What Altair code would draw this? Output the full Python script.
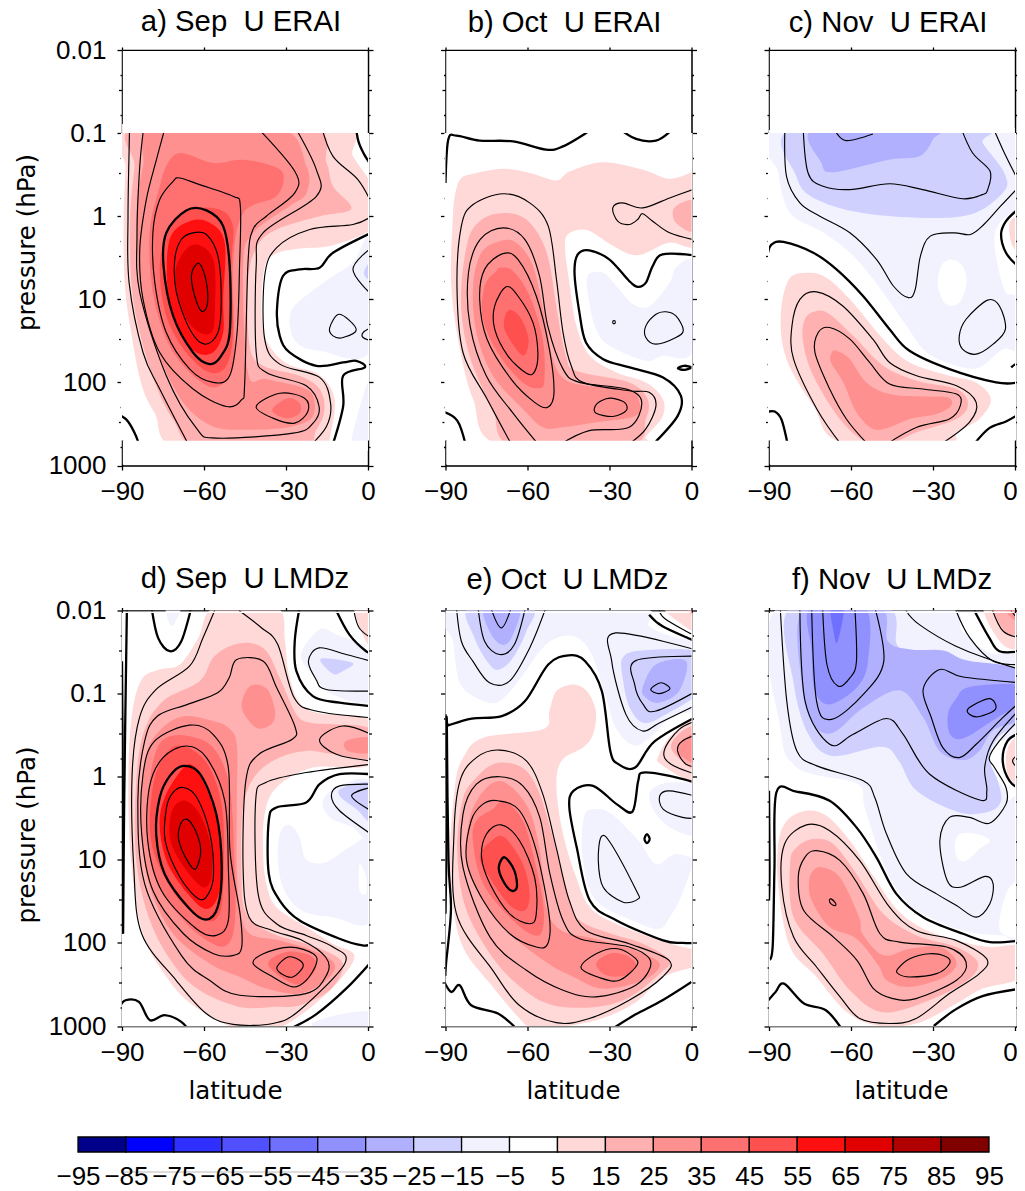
import altair as alt
import pandas as pd

# Colour levels of the shared colour bar
EDGES = [-95,-85,-75,-65,-55,-45,-35,-25,-15,-5,5,15,25,35,45,55,65,75,85,95]
COLORS = ["#00008b","#0000ff","#2f2fff","#5050ff","#7070ff","#9090ff","#b0b0ff","#d0d0ff","#f2f2ff","#ffffff",
          "#ffd8d8","#ffb0b0","#ff9090","#ff7070","#ff5050","#ff1010","#e00000","#b00000","#800000"]
Y_TICKS = [0.01,0.02,0.03,0.06,0.1,0.2,0.3,0.6,1,2,3,6,10,20,30,60,100,200,300,600,1000]
X_TICKS = [-90,-60,-30,0]

# Every contour below is a flat list: latitude, log10(pressure in hPa), latitude, ...
# a) Sep U ERAI
A_F10 = [-88.7,-1.12,-11.6,-1.12,-5.5,-.72,.6,-.42,1.8,-.2,1.8,.14,-12.8,.35,-25,.39,-33.5,.45,-37.8,.61,-39,1.13,-37.2,1.49,-29.9,1.77,-17.7,1.91,-12.2,2.21,-14,2.69,-14.6,2.81,-68.3,2.81,-78,2.37,-83,2.01,-86.6,1.41,-89,.81,-89.4,0,-88.7,-.6]
A_F20 = [-84.1,-1.08,-22,-1.08,-15.2,-.64,-12.8,-.36,-6.1,-.09,-17.7,0,-33.5,.16,-40.9,.38,-43.9,.8,-43.3,1.56,-38.4,1.8,-25,1.92,-17.7,2.08,-15.9,2.33,-18.9,2.57,-25,2.79,-61.6,2.79,-71.3,2.45,-78,2,-83.5,1.4,-86.6,.8,-87,0,-85.4,-.6]
A_F30 = [-78,-1.08,-33,-1.08,-22.5,-.6,-22.5,-.28,-28.7,-.12,-42,.2,-45.7,.6,-43.9,1.88,-37.2,1.96,-22.6,2.08,-19.5,2.25,-21.3,2.45,-31.1,2.55,-45.7,2.57,-56.7,2.53,-66.5,2.29,-73.8,1.88,-79.9,1.4,-83.5,.8,-84.8,0,-82.3,-.6]
A_F40 = [-68.3,-.76,-56.7,-.64,-47,-.68,-38.4,-.64,-31.1,-.52,-33.5,-.24,-45.7,-.04,-49.4,.6,-48.8,1.6,-50.6,1.92,-56.7,2.06,-65.2,1.88,-73.2,1.52,-78.7,.92,-79.9,.2,-76.2,-.36,-73.2,-.64]
A_F40B = [-34.8,2.31,-29.3,2.19,-25,2.25,-25,2.37,-29.3,2.43,-33.5,2.39]
A_F50 = [-72.6,.12,-65.2,-.08,-54.3,-.08,-49.4,.12,-50,.6,-49.4,1.4,-51.8,1.8,-57.9,1.88,-66.5,1.64,-73.8,1.2,-76.2,.6]
A_F60 = [-72.6,.28,-65.2,.06,-57.9,.08,-52.4,.32,-53,1,-53,1.4,-56.7,1.64,-62.8,1.64,-68.9,1.4,-73.2,.92]
A_F70 = [-65.2,.36,-59.8,.38,-56.1,.6,-56.1,1.2,-57.3,1.4,-61.6,1.4,-66.5,1.24,-70.1,.92,-70.1,.6]
A_N10 = [.6,.3,-5.5,.56,-12.8,.72,-21.3,.92,-27.4,1.1,-28.7,1.28,-26.2,1.52,-17.7,1.62,.6,1.62]
A_N20 = [1,.56,-1.2,.64,-1.2,.72,1,.76]
A_N10B = [-.6,2.04,-5.5,2.61,-5.5,2.77,1.2,2.77,1.2,2.04]
A_L0A = [-4.5,-1.1,-3.5,-.9,-1.5,-.75,1,-.62]
A_L0B = [-13.4,2.8,-9.1,2.29,-9.1,1.92,-1.2,1.82,-4.3,1.74,-9.1,1.76,-18.9,1.8,-28.7,1.64,-32.3,1.44,-33.3,1.12,-31.1,.72,-25,.64,-17.7,.62,-12.8,.44,1.2,.2]
A_L0C = [-90.5,2.4,-87.8,2.47,-84.8,2.65,-83.5,2.79]
A_L10A = [-87.2,-1.08,-87.4,-.8,-87.8,0,-87.4,.8,-82.3,1.64,-76.2,2.08,-65,2.79]
A_L10B = [-17,-1.08,-12.8,-.72,-3.7,-.44,1.2,-.16]
A_L10C = [1.2,0,-5.5,.1,-21.3,.16,-33.5,.38,-37.8,.72,-37.8,1.48,-32.3,1.78,-17.7,1.94,-13.7,2.25,-15.2,2.53,-22,2.79]
A_L20 = [-26.8,-1.08,-18.9,-.56,-18.9,-.24,-38.4,.2,-40.9,.6,-40.9,1.64,-37.2,1.88,-22.6,2.04,-17.9,2.29,-20.1,2.49,-27.4,2.61,-55.5,2.67,-62.8,2.55,-73.8,1.92,-83.5,.92,-84.5,.2,-83.5,-.6,-82,-1.08]
A_L30 = [-40.9,-1.08,-26.8,-.54,-26.8,-.28,-37.2,0,-42.1,.16,-43.9,.56,-45.1,2,-46.3,2.21,-51.8,2.29,-64,2.08,-76.2,1.64,-82.3,1,-83.5,.4,-81.1,-.2,-77.4,-.68,-74.1,-1.08]
A_L30B = [-40.9,2.29,-32.3,2.13,-23.2,2.19,-22,2.35,-26.8,2.49,-34.8,2.43]
A_L40 = [-68.9,-.46,-61.6,-.38,-49.4,-.24,-46.7,-.12,-47,.6,-47.9,1.4,-50.6,1.92,-56.7,2,-65.2,1.84,-73.8,1.4,-78,.8,-78.7,.2,-76.2,-.2,-71.3,-.42]
A_L50 = [-66.5,-.07,-59.1,-.07,-53,.12,-50.6,.6,-50.6,1.4,-53.7,1.68,-57.9,1.78,-64,1.64,-71.3,1.2,-74.8,.6,-73.8,.2]
A_L60 = [-64,.2,-59.1,.22,-54.9,.48,-53.7,1,-54.9,1.4,-59.8,1.54,-65.2,1.36,-70.1,.92,-70.7,.52,-68.3,.28]
A_L70 = [-62.8,.58,-61,.6,-58.9,.84,-58.9,1.08,-61,1.14,-63.4,.96,-64.6,.72]
A_M10A = [1.2,.38,-5.5,.64,1.2,.94]
A_M10B = [-14,1.34,-10.4,1.18,-4.3,1.36,-9.1,1.46,-12.8,1.44]
A_M10C = [1.2,1.34,-1.8,1.4,-1.8,1.46,1.2,1.5]
PANEL_A = [("F",10,A_F10),("F",20,A_F20),("F",30,A_F30),("F",40,A_F40),("F",40,A_F40B),("F",50,A_F50),("F",60,A_F60),("F",70,A_F70),
           ("F",-10,A_N10),("F",-20,A_N20),("F",-10,A_N10B),
           ("O",0,A_L0A),("O",0,A_L0B),("O",0,A_L0C),("O",10,A_L10A),("O",10,A_L10B),("O",10,A_L10C),("O",20,A_L20),("O",30,A_L30),
           ("C",30,A_L30B),("C",40,A_L40),("C",50,A_L50),("C",60,A_L60),("C",70,A_L70),("O",-10,A_M10A),("C",-10,A_M10B),("O",-10,A_M10C)]

# b) Oct U ERAI
B_F10 = [-84.1,-.46,-79.8,-.51,-68.9,-.57,-59.1,-.52,-49.4,-.43,-44.5,-.54,-32.3,-.65,-17.7,-.56,-8,-.45,1,-.54,2,-.54,2,.32,-8.4,.32,-19.9,.47,-29.5,.34,-38,.17,-44.5,.2,-46.3,.36,-44.5,.84,-42.1,1.32,-37.2,1.68,-27.5,1.88,-16.7,2,-10.6,2.19,-10.6,2.41,-16.7,2.65,-19,2.75,-70.2,2.75,-79.9,2.2,-84.7,1.6,-87.9,.84,-87.3,0,-86.1,-.32]
B_F20 = [-71.4,-.03,-64.1,-.02,-58,.12,-52.6,.48,-48.9,1.2,-45.9,1.68,-42.2,1.86,-22.8,2,-16.1,2.2,-16.7,2.44,-22.8,2.76,-65.3,2.76,-72.6,2.33,-80,1.8,-83.6,1.32,-84.2,.84,-81.7,.28,-77.5,.06]
B_F20B = [-6.3,-.1,1,-.18,1,.18,-5.7,.08]
B_F30 = [-70.2,.3,-64.1,.32,-58,.6,-53.8,1.2,-50.7,1.72,-46.5,1.96,-38.6,2.04,-22.8,2.08,-19.2,2.22,-20.4,2.4,-35,2.48,-47.2,2.54,-54.4,2.54,-61.7,2.32,-72.6,1.92,-78.7,1.4,-79.9,.84,-76.9,.44]
B_F40 = [-70.2,.62,-65.3,.66,-59.2,.96,-54.4,1.48,-53.8,1.96,-55.6,2.07,-61.7,2,-70.2,1.68,-76.3,1.24,-75.7,.84,-71.4,.66]
B_F50 = [-65.9,1.13,-62.2,1.24,-59.6,1.48,-61,1.67,-64.1,1.6,-68.4,1.36,-68,1.18]
B_N10 = [-38,.72,-32.3,.68,-27.5,.84,-21.4,1.06,-15.3,1.08,-8,.8,-5.7,.62,.4,.59,.4,1.62,-10.6,1.68,-16.7,1.74,-30.1,1.56,-34.9,1.36,-37.4,1.04]
B_L0A = [-90,-.4,-89,-.92,-86,-.97,-77.5,-.91,-65.3,-.9,-53.2,-.8,-47,-.84,-38.6,-1,-36,-1.07]
B_L0B = [-27,-1.07,-20.3,-.93,-13,-.91,-7.8,-1.02,-6,-1.1]
B_L0C = [-91,2.35,-85.7,2.46,-82.7,2.74]
B_L0D = [.4,.47,-10.6,.46,-14.2,.6,-16.7,.8,-19.7,.85,-22.8,.78,-30.1,.52,-37.4,.41,-41.6,.46,-42.8,.68,-41,1.16,-38.6,1.52,-32.3,1.72,-22.6,1.82,-10.4,1.94,-3.9,2.16,-5,2.4,-13,2.71]
B_L0E = [-5,1.83,-2.7,1.8,0,1.82,-2.7,1.85]
B_L10A = [-66,2.74,-74.8,2.2,-83.6,1.64,-85.8,.84,-84.2,.12,-79.9,-.14,-68.9,-.27,-59.2,-.16,-52.4,.12,-49.4,.76,-47,1.4,-44,1.8,-39.7,2,-22.8,2.1,-15.5,2.12,-13,2.28,-16.7,2.56,-22.8,2.74]
B_L10B = [.4,-.32,-8,-.22,-17.9,-.1,-25.2,-.16,-28.8,-.1,-27,.06,-22.8,.1,-19.7,.04,-17.9,-.03,-14.2,.06,-8,.2,.4,.28]
B_L20 = [-56.2,2.74,-65.3,2.37,-75.1,1.92,-81,1.32,-81.6,.68,-77.3,.28,-68.9,.14,-61,.28,-55.6,.72,-52.6,1.32,-47,1.84,-41,2,-23.9,2.08,-18.2,2.24,-22.8,2.54,-37.4,2.58,-47.7,2.74]
B_L30 = [-69,.45,-63.5,.52,-56.8,.96,-52,1.6,-50.3,2.12,-52.6,2.3,-57.4,2.24,-66,1.96,-74.8,1.48,-77.5,1,-75.7,.64]
B_L30B = [-29.4,2.19,-24.5,2.24,-23.9,2.34,-28.8,2.41,-34.9,2.37,-35.3,2.29,-33,2.22]
B_L40 = [-67.8,.85,-63.5,.96,-58,1.28,-56.2,1.64,-57.4,1.87,-60.4,1.89,-67.2,1.68,-72,1.36,-72,1.08]
B_M10A = [-28.7,1.26,-28,1.26,-28,1.29,-28.7,1.29]
B_M10B = [-9.4,1.15,-5.7,1.2,-3,1.37,-5.7,1.46,-13,1.54,-16.7,1.46,-16.7,1.32,-13,1.18]
PANEL_B = [("F",10,B_F10),("F",20,B_F20),("F",20,B_F20B),("F",30,B_F30),("F",40,B_F40),("F",50,B_F50),("F",-10,B_N10),
           ("O",0,B_L0A),("O",0,B_L0B),("O",0,B_L0C),("O",0,B_L0D),("C",0,B_L0E),("O",10,B_L10A),("O",10,B_L10B),("O",20,B_L20),
           ("C",30,B_L30),("C",30,B_L30B),("C",40,B_L40),("C",-10,B_M10A),("C",-10,B_M10B)]

# c) Nov U ERAI
C_N10 = [-87,-1.06,-.2,-1.06,.4,-.68,1,-.12,-4.5,.04,-7.5,.24,-6.3,.6,-3.3,.92,1,1,1,1.58,-4.5,1.6,-13,1.82,-21.4,1.8,-32.3,1.64,-39.7,1.32,-48.2,.92,-59.1,.48,-70,.2,-82.3,-.04,-86.6,-.52]
C_F0A = [-23.4,.52,-19.2,.6,-17.7,.8,-20.4,1.04,-25.2,1.06,-28.2,.84,-27,.6]
C_N20 = [-80.5,-1.06,-80,-.48,-72.6,-.2,-52,-.02,-19.2,0,-4.5,-.28,-3.9,-.52,-11.8,-.88,-13,-1.06]
C_N30 = [-73.2,-1.06,-70.8,-.64,-66.5,-.53,-46,-.68,-35,-.72,-30.1,-.92,-29.9,-1.06]
C_F10A = [-75.6,.68,-69,.74,-60.4,1,-48.2,1.48,-38.5,1.76,-24,1.92,-14.3,2,-8.8,2.2,-13,2.44,-21.4,2.6,-25,2.72,-63.5,2.72,-73.8,2.28,-83.6,1.72,-85.7,1.2,-82.7,.76]
C_F10B = [-2,.08,1,.04,1,.4,-1.4,.32]
C_F20 = [-72.6,1.14,-67.8,1.18,-59.2,1.44,-48.2,1.8,-36,1.98,-21.4,2.08,-17.2,2.26,-21.4,2.44,-36,2.6,-44.5,2.72,-54.2,2.72,-64.1,2.44,-73.8,1.92,-77.5,1.52,-76.9,1.24]
C_F30 = [-65.3,1.62,-60.4,1.72,-54.4,2,-45.9,2.14,-33.8,2.17,-24.6,2.18,-23.4,2.28,-28.8,2.38,-38.5,2.44,-45.9,2.54,-52,2.56,-58,2.36,-62.8,2,-67.3,1.76,-67,1.64]
C_L0A = [-90.5,.46,-89,.34,-84.7,.31,-73.8,.44,-65.3,.64,-55.6,.96,-45.9,1.36,-38.6,1.62,-24,1.84,-6.9,2,1,2]
C_L0B = [-91,2.36,-87.9,2.35,-85.4,2.45,-83.2,2.74]
C_L0C = [-14.9,2.74,-9.4,2.55,-3.3,2.47,1,2.39]
C_L0D = [1,-.08,-3.3,.06,-5.1,.22,-3.3,.44,1,.6]
C_L0E = [-1.4,1.82,.4,1.78,.4,1.85]
C_M10A = [-84.2,-1.06,-83.6,-.48,-78.7,-.16,-71.4,0,-60.4,.2,-50.7,.52,-44.5,.84,-39,.98,-36.5,.88,-34.6,.48,-31,.24,-22.4,.2,-16.3,.22,-11.4,.1,-5.3,-.12,1,-.34]
C_M10B = [-7.4,-1.02,-3.3,-.72,.4,-.48]
C_M10C = [-10,1.01,-5.7,1.08,-3.5,1.36,-8,1.54,-14.2,1.66,-19.2,1.6,-20.4,1.44,-17.9,1.24]
C_M20 = [-77.5,-1.06,-75.7,-.52,-70.2,-.36,-60.4,-.32,-45.9,-.39,-33.8,-.32,-19.2,-.21,-11.9,-.26,-10,-.32,-9.1,-.54,-15.5,-.76,-19.7,-1.06]
C_M30 = [-65.6,-1.02,-61.7,-.91,-52,-.99]
C_L10 = [-63.8,2.74,-72.5,2.32,-81,1.72,-81.6,1.32,-78.7,1,-72.6,.91,-63,1.08,-52,1.48,-45.9,1.76,-36,1.92,-21.4,2.04,-14.2,2.24,-16.7,2.48,-27,2.74]
C_L20 = [-54,2.74,-61.7,2.44,-67.8,2.08,-73.2,1.64,-72,1.4,-67.8,1.34,-60.4,1.48,-53.2,1.76,-45.9,2.02,-33.8,2.08,-21.4,2.14,-20,2.28,-24,2.44,-35.9,2.54,-46.8,2.74]
PANEL_C = [("F",-10,C_N10),("F",0,C_F0A),("F",-20,C_N20),("F",-30,C_N30),("F",10,C_F10A),("F",10,C_F10B),("F",20,C_F20),("F",30,C_F30),
           ("O",0,C_L0A),("O",0,C_L0B),("O",0,C_L0C),("O",0,C_L0D),("O",0,C_L0E),("O",-10,C_M10A),("O",-10,C_M10B),("C",-10,C_M10C),
           ("O",-20,C_M20),("O",-30,C_M30),("O",10,C_L10),("O",20,C_L20)]

# d) Sep U LMDz
D_F10 = [-56.1,-2.04,-33.5,-2.04,-30.4,-1.64,-29.2,-1.27,-25.5,-.91,-18.8,-.77,1.1,-.67,1.1,-.15,-20.2,-.11,-33.5,.13,-37.8,.45,-38.4,.89,-37.2,1.29,-33.5,1.57,-22.6,1.81,-12.9,2.01,-5,2.15,-10.4,2.45,-22.6,2.82,-34.8,3.05,-47,3.05,-64,2.75,-73.7,2.41,-82.3,1.9,-86.5,1.09,-87.7,.13,-86.5,-.71,-82.8,-1.17,-76.1,-1.29,-68.8,-1.35,-62.1,-1.67]
D_F10B = [-5,-2.04,1.1,-2.04,1.1,-1.59,-2,-1.71]
D_F20 = [-56.7,-1.43,-50.6,-1.57,-43.2,-1.61,-37.1,-1.51,-32.3,-1.19,-26.2,-.75,-21,-.65,-12.4,-.63,1.1,-.57,1.1,-.23,-12.4,-.27,-22.6,-.31,-32.3,-.23,-40.8,-.03,-45.7,.37,-46.3,1.17,-44.5,1.65,-34.8,1.89,-19,2.05,-9.2,2.25,-14,2.57,-25,2.75,-34.8,2.77,-47,2.77,-61.6,2.57,-71.3,2.25,-79.8,1.73,-84.8,1.01,-84.9,.13,-82.3,-.51,-75,-.91,-61.6,-1.15]
D_F30 = [-73.7,-.63,-66.4,-.73,-56.7,-.67,-51.1,-.59,-48,-.39,-48,.29,-48,1.09,-46.8,1.61,-43.2,1.89,-32.3,1.97,-20.2,2.09,-12.2,2.25,-15.3,2.45,-25,2.61,-37.1,2.55,-46.8,2.41,-57.8,2.25,-71.3,1.89,-79.8,1.33,-82.8,.69,-82.3,-.03,-79.8,-.39]
D_F30B = [-43.2,-1.09,-37.1,-1.06,-34,-.79,-35.4,-.63,-40.9,-.59,-46.2,-.83]
D_F30C = [-8,-.43,1.1,-.47,1.1,-.29,-7.4,-.31]
D_F40 = [-73.7,-.47,-65.9,-.49,-56.7,-.35,-50.6,.13,-48.7,1.17,-48.7,1.73,-50.6,1.99,-55.5,2.03,-66.4,1.77,-77.5,1.25,-80.6,.69,-79.8,.05,-77.5,-.31]
D_F40B = [-36.6,2.25,-29.9,2.11,-21.4,2.15,-18.9,2.29,-23.8,2.49,-29.9,2.45]
D_F50 = [-72.5,-.33,-65.9,-.35,-58,-.11,-53.1,.45,-53.1,1.41,-55.5,1.71,-60.4,1.71,-68.9,1.49,-76.8,1.05,-79.8,.61,-78,.01]
D_F60 = [-67.5,-.11,-63.8,-.13,-61,.01,-55.5,.49,-53.7,1.17,-55.5,1.49,-59.8,1.59,-65.9,1.41,-73.2,1.05,-76.2,.61,-74.4,.25]
D_F70 = [-66.7,.29,-61.6,.45,-57.3,.85,-57.3,1.21,-60.4,1.33,-66.4,1.13,-71.9,.81,-72.5,.53,-70.7,.35]
D_N10A = [-17.8,-1.77,-11.6,-1.71,0,-1.51,1.1,-.91,-12.9,-.99,-20.2,-1.23,-24.5,-1.47]
D_N20A = [-17.3,-1.42,-5.6,-1.37,-9.2,-1.27,-12.9,-1.24]
D_N10B = [-73.9,-2.04,-68.6,-2.04,-70.7,-1.85,-72.5,-1.83]
D_N10C = [-32.3,.69,-28.7,.58,-25,.73,-22.6,1,-15.3,1.03,-6.8,.85,1.1,.79,1.1,1.73,-12.9,1.69,-23.8,1.62,-30.4,1.38,-32.9,1.05]
D_N10D = [1.1,.07,-10.4,.11,-16.5,.29,-14,.49,-5.6,.61,1.1,.77]
D_N20B = [1.1,.09,-9.2,.13,-10.4,.23,-4.3,.39,1.1,.53]
D_F0 = [-3.1,1.05,-.7,1.21,-.7,1.41,-3.1,1.37]
D_N10E = [-20.2,3,-12.9,2.88,0,2.83,1.1,3.03]
D_L0A = [-79.2,-2.04,-76.8,-1.67,-72.5,-1.51,-68.3,-1.63,-64.6,-2.04]
D_L0B = [-25,-2.04,-26.8,-1.63,-26.2,-1.27,-20.2,-.97,-10.4,-.89,1.1,-.85]
D_L0C = [-11.6,-2,-6.8,-1.71,-.7,-1.51,1.1,-1.51]
D_L0D = [-88.2,-2.04,-88.7,-.91,-89.2,.29,-89.6,1.89]
D_L0E = [-90,-1.39,-89.7,.29,-90,1.89]
D_L0F = [1.1,-.03,-10.4,-.03,-17.7,.09,-22.6,.31,-33.5,.37,-36.3,.53,-36.3,1.17,-32.3,1.49,-25,1.73,-10.4,1.95,-2,2.03,1.1,2.01]
D_L0G = [-27.7,3.02,-19,2.86,-8,2.55,1.1,2.23]
D_L0H = [-91,2.78,-88.7,2.69,-83.8,2.71,-79.8,2.93,-74.4,2.87,-68.3,2.95,-64.6,3.1]
D_L10A = [-47.2,-2,-38.9,-1.79,-33,-1.59,-27,-.95,-19,-.79,1.1,-.71]
D_L10B = [-56.1,-2,-60.4,-1.67,-65.3,-1.33,-77.5,-1.05,-83.6,-.71,-86.3,-.03,-85.7,1.09,-82.8,1.89,-70.2,2.45,-59.2,2.85,-49.4,2.98,-34.8,2.97,-25,2.81,-8.5,2.25,-12.8,2.05,-22.6,1.91,-33.5,1.77,-40.2,1.41,-41.1,.29,-37.4,.07,-22.6,-.05,1.1,-.15]
D_L20A = [1.1,-.51,-9.2,-.61,-17.7,-.45,-11.6,-.27,1.1,-.19]
D_L20B = [-48,-1.41,-38.3,-1.39,-33.4,-1.07,-26.8,-.61,-27.7,-.45,-39.9,-.27,-44.7,.05,-45.7,1.09,-43.5,1.69,-35,1.85,-24,1.97,-15.5,2.17,-14.9,2.37,-22.8,2.61,-47,2.63,-58,2.45,-68.3,2.15,-81.7,1.29,-84.2,.29,-81.7,-.43,-77,-.73,-66,-.87,-55,-1.01,-50.8,-1.19]
D_L30 = [-65.3,-.62,-56.7,-.51,-51.1,-.11,-50.5,.89,-46.8,1.65,-46.2,2.05,-49.2,2.15,-56.5,2.13,-67.5,1.89,-78.7,1.37,-82.8,.69,-82.3,-.03,-78,-.43]
D_L30B = [-42,2.25,-38.3,2.13,-28.5,2.05,-20,2.13,-18.9,2.25,-22.6,2.45,-27.5,2.53,-34.8,2.41]
D_L40 = [-66.4,-.37,-59.1,-.23,-52.4,.29,-51.1,1.09,-51.1,1.73,-55.5,1.91,-62.8,1.83,-75.6,1.37,-80.6,.77,-80,.13,-75,-.23]
D_L50 = [-67.5,-.13,-61.4,-.03,-55.5,.45,-53.5,1.09,-55,1.57,-59.3,1.72,-65.3,1.59,-74.4,1.17,-77.5,.69,-76.2,.25,-72.5,-.01]
D_L60 = [-67.5,.13,-62.6,.25,-57.8,.69,-56.5,1.17,-58.4,1.41,-62,1.47,-68.8,1.21,-74.2,.77,-73.7,.37,-71.3,.19]
D_L70 = [-66.4,.51,-63.1,.65,-61.2,.89,-63.1,1.11,-66.1,1.01,-69.2,.77,-68.8,.59]
D_L40B = [-33.3,2.29,-29.3,2.17,-25,2.21,-23.8,2.29,-27.5,2.41,-31.7,2.37]
D_M10A = [1.1,-1.39,-8,-1.47,-17.9,-1.55,-21.8,-1.39,-19,-1.17,-15.3,-1.05,1.1,-1.03]
D_M10B = [1.1,.09,-10.4,.11,-13.4,.23,-10.4,.41,1.1,.69]
D_M20 = [1.1,.13,-6,.23,1.1,.41]
D_L10T = [-5,-1.97,-3.2,-1.79,1.1,-1.67]
PANEL_D = [("F",10,D_F10),("F",10,D_F10B),("F",20,D_F20),("F",30,D_F30),("F",30,D_F30B),("F",30,D_F30C),("F",40,D_F40),("F",40,D_F40B),("F",50,D_F50),("F",60,D_F60),("F",70,D_F70),
           ("F",-10,D_N10A),("F",-20,D_N20A),("F",-10,D_N10B),("F",-10,D_N10C),("F",-10,D_N10D),("F",-20,D_N20B),("F",0,D_F0),("F",-10,D_N10E),
           ("O",0,D_L0A),("O",0,D_L0B),("O",0,D_L0C),("O",0,D_L0D),("O",0,D_L0E),("O",0,D_L0F),("O",0,D_L0G),("O",0,D_L0H),
           ("O",10,D_L10A),("O",10,D_L10B),("C",20,D_L20B),("O",20,D_L20A),("C",30,D_L30),("C",30,D_L30B),("C",40,D_L40),("C",40,D_L40B),("C",50,D_L50),("C",60,D_L60),("C",70,D_L70),
           ("O",-10,D_M10A),("O",-10,D_M10B),("O",-20,D_M20),("O",10,D_L10T)]

# e) Oct U LMDz
E_N10A = [-88.7,-2.04,-20.4,-2.04,-15.5,-1.81,-5.7,-1.67,3.4,-1.61,3.4,-.87,-6.9,-.73,-15.3,-.47,-21.4,-.38,-27.7,-.59,-31.6,-.99,-36.5,-1.47,-42.2,-1.68,-49.4,-1.67,-55.5,-1.51,-63.4,-1.15,-70.7,-.9,-77.5,-.93,-84.8,-1.13,-87.2,-1.63]
E_N20A = [-81.4,-2.04,-79.4,-1.67,-73.9,-1.35,-70.2,-1.29,-65.3,-1.43,-60.4,-1.75,-58.6,-2.04]
E_N30A = [-75.7,-2.04,-73.9,-1.75,-69.6,-1.59,-65.9,-1.67,-63.1,-2.04]
E_N20B = [-25.2,-1.43,-17.9,-1.52,3.4,-1.49,3.4,-1.05,-10.4,-.73,-17.7,-.65,-22.6,-.83,-25,-1.15]
E_N30B = [-17.9,-1.07,-13,-1.35,-2,-1.39,-4.5,-1.03,-11.8,-.89,-16.7,-.95]
E_N10B = [-39.4,.49,-35.2,.39,-29.2,.45,-19.4,.77,-13,1.05,-5.7,.93,3.4,1.03,.4,1.09,-2,1.29,-5,1.53,-8,1.69,-11.6,1.83,-20.2,1.75,-34.9,1.49,-39.7,1.01]
E_N10C = [-15.3,.19,-8,.07,3.4,.15,3.4,.67,-5.7,.65,-13,.45]
E_F10T = [-10,-2.04,3.4,-2.04,3.4,-1.73,-3.3,-1.83]
E_F20T = [-2,-2.04,3.4,-2.04,3.4,-1.85]
E_F10R = [-12.3,-.23,-7,-.51,3.4,-.71,3.4,.07,-3.3,.01,-11.2,-.15]
E_F20R = [-7.5,-.35,-3.3,-.55,3.4,-.59,3.4,-.07,-2,-.15]
E_F30R = [-4.8,-.31,-2,-.47,3.4,-.51,3.4,-.15,-2,-.21]
E_F10 = [-86.6,.13,-83.5,-.23,-76.2,-.47,-54.4,-.57,-52,-.79,-49.4,-1.03,-43.2,-1.11,-38.3,-1.03,-35,-.79,-36,-.51,-39.7,-.35,-47.6,-.19,-49.4,.13,-47,.69,-42.2,1.21,-37.2,1.57,-27.5,1.77,-11.6,1.97,0,2.07,3.4,2.07,3.4,2.25,-10.4,2.41,-20.2,2.71,-34.8,2.93,-53.1,3.03,-59.2,3.03,-73.7,2.49,-84.6,1.97,-88.3,1.09]
E_F20 = [-79.8,.05,-71.9,-.16,-62,-.11,-56,.17,-51.1,.69,-46.2,1.29,-42.2,1.69,-31.2,1.87,-17.8,2.01,-8,2.21,-11.6,2.37,-22.6,2.65,-34.8,2.77,-50.8,2.75,-61.9,2.55,-72.9,2.17,-82.7,1.57,-85.7,.89,-83.8,.29]
E_F30 = [-74.9,.13,-68.3,.07,-59.8,.37,-55.5,.89,-53.1,1.57,-47.6,1.85,-35.4,1.95,-20.8,2.09,-11.6,2.25,-17.7,2.45,-32.3,2.55,-43.2,2.41,-54.1,2.21,-71.3,1.73,-81.7,1.09,-81.1,.49]
E_F40 = [-72.7,.39,-68.4,.29,-61.7,.53,-58,.93,-54.4,1.49,-54.4,1.83,-57.4,1.91,-65.3,1.73,-76.2,1.29,-80,.77,-78.7,.53]
E_F40B = [-34.9,2.25,-30.1,2.13,-24,2.15,-20.2,2.27,-24,2.39,-31.2,2.39]
E_F50 = [-73.2,.77,-68.4,.73,-61.7,1.05,-59.2,1.41,-61,1.61,-66.4,1.55,-73.2,1.25,-77.5,.97]
E_L0A = [-90,2.4,-89.8,2.25,-88,1.6,-88.9,1,-89.5,-.6,-88.7,-.62,-80.4,-.7,-69.4,-.73,-60.9,-.91,-52.4,-1.35,-45,-1.46,-38.9,-1.39,-32.8,-1.03,-29.7,-.31,-26.7,-.15,-20.6,-.11,-13.3,-.43,3.4,-.75]
E_L0B = [-90,-.75,-89.6,.45,-90,1.65]
E_L0C = [-15.5,-1.95,-10.6,-1.81,0,-1.65,3.4,-1.6]
E_L0D = [3.4,.09,-8,-.01,-17.7,-.05,-19.5,.05,-21.6,.42,-27.4,.33,-36,.11,-43.2,.17,-44.7,.37,-42,.85,-37.2,1.49,-27.4,1.73,-10.4,1.97,-3.2,2,3.4,2]
E_L0E = [-91,2.43,-87.9,2.59,-84.8,2.51,-80.6,2.75,-70.8,2.85,-63.5,3.05]
E_L0F = [-28.3,3.02,-20.4,2.86,-10.6,2.69,0,2.47]
E_L0G = [-16.3,.69,-15.3,.75,-16.3,.8,-17.2,.75]
E_M10A = [-86,-2.04,-84.2,-1.63,-80,-1.39,-73.9,-1.13,-66.6,-1.15,-59.2,-1.55,-53.2,-2.04]
E_M20A = [-78.1,-2.04,-75.7,-1.63,-70.2,-1.47,-64.8,-1.59,-60.7,-2.04]
E_M30A = [-73.5,-2.04,-69.6,-1.79,-65.9,-2.04]
E_M10B = [3.4,-1.51,-27.7,-1.73,-29.2,-1.39,-24,-.75,-17.9,-.55,-11.6,-.65,3.4,-.89]
E_M20B = [3.4,-1.45,-20.2,-1.4,-20.8,-1.11,-17.7,-.87,-13,-.79,3.4,-1.06]
E_M30B = [-14.9,-1.05,-11.2,-1.13,-7.9,-1.06,-11.8,-1]
E_M10C = [-33,.72,-29.4,.81,-20.2,1.37,-19.5,1.47,-25,1.51,-32.3,1.33,-34.1,1.01]
E_M10D = [3.4,.25,-8,.17,-11.6,.23,-10.4,.39,-3.3,.49,3.4,.5]
E_L10T = [-11.8,-2,-9.7,-1.9,-2,-1.75,0,-1.72]
E_L10 = [-70.2,-.32,-60.4,-.19,-54.4,.21,-49.5,.85,-44.7,1.49,-38.6,1.85,-22.8,2.01,-8.2,2.21,-10.6,2.41,-22.8,2.69,-37.4,2.91,-49.5,2.96,-63,2.75,-72.7,2.33,-86,1.65,-86.9,.69,-84.7,.05,-78.7,-.23]
E_L20 = [-70.2,0,-61.7,.11,-55.5,.49,-51.8,1.17,-47,1.73,-40.9,1.95,-22.8,2.05,-14.9,2.23,-20.4,2.51,-35,2.65,-47,2.57,-60.4,2.33,-73.7,1.93,-83.6,1.09,-83.6,.45,-78.7,.09]
E_L30 = [-70.8,.29,-62.9,.41,-56.8,.89,-52,1.69,-52.6,2.01,-56.8,2.05,-66.5,1.89,-76.2,1.49,-82.3,1.01,-80.6,.53,-76.3,.33]
E_L30B = [-40.4,2.3,-34.9,2.13,-27,2.07,-20.4,2.19,-20.4,2.29,-26.4,2.45,-32.5,2.43]
E_L40 = [-69.6,.58,-62.9,.77,-57.4,1.21,-56.8,1.65,-59.2,1.77,-66.5,1.65,-73.7,1.29,-76.8,.97,-75,.69]
E_L50 = [-68.4,.97,-64.8,1.13,-63.9,1.33,-66,1.37,-69,1.25,-70.5,1.09]
E_L10R = [3.4,-.69,-4.5,-.57,-10,-.31,-7.5,-.15,3.4,-.01]
E_L20R = [3.4,-.52,-3.3,-.43,-5.1,-.31,-2,-.15,3.4,-.11]
PANEL_E = [("F",-10,E_N10A),("F",-20,E_N20A),("F",-30,E_N30A),("F",-20,E_N20B),("F",-30,E_N30B),("F",-10,E_N10B),("F",-10,E_N10C),
           ("F",10,E_F10T),("F",20,E_F20T),("F",10,E_F10R),("F",20,E_F20R),("F",30,E_F30R),("F",10,E_F10),("F",20,E_F20),("F",30,E_F30),("F",40,E_F40),("F",40,E_F40B),("F",50,E_F50),
           ("O",0,E_L0A),("O",0,E_L0B),("O",0,E_L0C),("O",0,E_L0D),("O",0,E_L0E),("O",0,E_L0F),("C",0,E_L0G),
           ("O",-10,E_M10A),("O",-20,E_M20A),("O",-30,E_M30A),("O",-10,E_M10B),("O",-20,E_M20B),("C",-30,E_M30B),("C",-10,E_M10C),("O",-10,E_M10D),
           ("O",10,E_L10T),("C",10,E_L10),("C",20,E_L20),("C",30,E_L30),("C",30,E_L30B),("C",40,E_L40),("C",50,E_L50),("O",10,E_L10R),("O",20,E_L20R)]

# f) Nov U LMDz
F_N10 = [-86.6,-2.04,-26.5,-2.04,-19.2,-1.75,-9.4,-1.49,2.2,-1.41,2.2,-.59,-6.9,-.39,-9.1,-.11,-3.3,.17,-2.7,.29,2.2,.35,2.2,1.89,-4.5,1.91,-19.2,1.85,-36,1.61,-44.5,1.29,-49.5,.93,-55,.37,-57.4,.09,-73.8,-.03,-81,-.15,-85.5,-.51]
F_F0A = [-22,.83,-20.2,.69,-14,.69,-9.2,.77,-13,.87,-17.7,1.01,-20.9,.99]
F_F0B = [-2.7,1.37,2.2,1.29,2.2,1.89,-4.5,1.89,-5.7,1.73]
F_N20 = [-82.2,-2.04,-47,-2.04,-43.2,-1.59,-37.1,-1.49,-24.6,-1.43,-9.4,-1.29,2.2,-1.25,2.2,-.71,-6.3,-.47,-9.4,-.23,-6.3,.05,-5.1,.29,-9.4,.42,-20.4,.43,-36,.17,-42.5,-.19,-48.7,-.36,-67,-.25,-75.6,-.51,-80.9,-1.11]
F_N30 = [-77.2,-2.04,-49.5,-2.04,-46.5,-1.63,-38,-1.53,-26.3,-1.52,-17.8,-1.4,2.2,-1.26,2.2,-.72,-8,-.56,-13,-.31,-19,-.2,-27.6,-.31,-33.7,-.72,-42.2,-1.04,-55.5,-.83,-66.5,-.53,-73.8,-.63,-78,-1.11]
F_N40 = [-74.8,-2.04,-55,-2.04,-53.8,-1.39,-58,-1.07,-67.8,-.87,-73.2,-1.03,-74.4,-1.51]
F_N40B = [-24.5,-.76,-21.5,-.94,-16.6,-1.08,2.2,-1.1,2.2,-.9,-8,-.68,-19,-.46,-23.9,-.52]
F_N50 = [-67.4,-2.04,-62.6,-2.04,-65,-1.62,-66.4,-1.75]
F_F10T = [-11.4,-2.04,2.2,-2.04,2.2,-1.59,-4.5,-1.59]
F_F20T = [-7.5,-2.04,2.2,-2.04,2.2,-1.71,-3.3,-1.73]
F_F30T = [-4.5,-2.04,2.2,-2.04,2.2,-1.83]
F_F10R = [2.2,-.47,-2,-.39,-3.3,-.19,-2,.01,2.2,.09]
F_F10 = [-76.3,.41,-69,.47,-60.4,.77,-50.7,1.25,-43.4,1.59,-33.6,1.83,-19,1.99,-9.2,2.05,2.2,2.05,2.2,2.41,-11.8,2.55,-21.4,2.73,-36,2.97,-50.7,2.99,-61.7,2.83,-72.6,2.41,-82.3,2.05,-86.6,1.33,-86.6,.81,-83.5,.53]
F_F20 = [-73.8,.75,-66.5,.81,-58,1.17,-48.2,1.65,-36,1.91,-21.4,2.05,-13.5,2.25,-19,2.49,-36,2.75,-49.4,2.83,-60.4,2.57,-70.2,2.13,-81,1.69,-82.3,1.05,-79.8,.85]
F_F30 = [-70.8,1.09,-64.1,1.21,-57,1.69,-55.8,1.89,-48.2,2.15,-38.5,2.07,-27.5,2.05,-21.4,2.23,-25.7,2.41,-38.5,2.53,-47,2.45,-50,2.27,-58,1.95,-67.8,1.81,-74.4,1.49,-75.3,1.25,-73.8,1.13]
F_L0 = [-89.6,2.2,-88.6,2.01,-88,1.09,-87.3,.19,-80,.18,-67.8,.29,-58,.61,-50.7,.97,-43.4,1.41,-33.6,1.69,-19,1.89,-9.2,1.99,2.2,1.97]
F_L0B = [-90,.17,-89.8,1.09,-90,1.49]
F_L0C = [-14.9,-2,-9.4,-1.67,-5.7,-1.51,2.2,-1.51]
F_L0D = [2.2,-.53,-2.7,-.43,-4.5,-.19,-2,.05,2.2,.15]
F_L0E = [-91,2.72,-87.6,2.59,-84.5,2.49,-77.2,2.73,-69.2,2.81,-63.1,3.05]
F_L0F = [-29.7,3,-21.7,2.8,-11.9,2.64,2.2,2.55]
F_M10A = [-85.9,-2.04,-83.5,-.91,-79.8,-.31,-72.5,-.13,-55.5,.05,-51.3,.25,-47,.69,-39.7,1.17,-28.7,1.41,-21.4,1.55,-14.2,1.69,-9.2,1.53,-8,1.29,-11,1.2,-20,1.33,-24.8,1.25,-27.5,.77,-24,.49,-16.7,.49,-9.4,.56,-3.3,.33,-3.3,.13,-7.5,-.11,-9.4,-.23,-5.7,-.43,2.2,-.71]
F_M10B = [-21.6,-2,-16.5,-1.67,-8,-1.39,2.2,-1.35]
F_M20A = [-78.7,-2.04,-76.8,-.91,-67.8,-.39,-59.2,-.51,-47,-.7,-40.9,-.51,-31.2,-.03,-12.9,.28,-10.3,.17,-11.1,-.11,-8,-.43,2.2,-.83]
F_M20B = [-39.9,-2,-35,-1.83,-21.6,-1.57,-5.7,-1.37,2.2,-1.29]
F_M30A = [-74.4,-2.04,-72.6,-.91,-67.1,-.69,-55.5,-.99,-48,-1.39,-51.3,-2.04]
F_M30B = [2.2,-1.13,-19,-1.2,-27.5,-1.29,-33.6,-1.05,-30.6,-.71,-26.4,-.35,-20.4,-.23,-14.2,-.39,-4.5,-.71,2.2,-.91]
F_M40A = [-70.4,-2.04,-68.8,-1.35,-64.8,-1.09,-60.4,-1.19,-58,-1.39,-58.6,-2.04]
F_M40B = [-17.3,-.81,-9.4,-.94,-7.2,-.81,-14.2,-.72]
F_L10T = [-8.2,-2,-4.3,-1.75,2.2,-1.67]
F_L20T = [-1.5,-2,2.2,-1.85]
F_L10R = [2.2,-.29,-.9,-.19,2.2,-.07]
F_L10 = [-76.3,.58,-67.8,.65,-56.8,1.01,-45.9,1.57,-36.2,1.85,-21.6,1.97,-10.4,2.19,-13,2.37,-24,2.61,-36.2,2.91,-45.9,2.97,-56.8,2.91,-64,2.65,-72.6,2.29,-81,1.93,-85.3,1.33,-84.3,.81]
F_L20 = [-72.6,.89,-64,1.01,-55.5,1.41,-49.4,1.89,-42.2,1.99,-25,2.05,-17.9,2.23,-21.4,2.45,-36.2,2.67,-44.7,2.67,-51.8,2.55,-57.8,2.21,-66.4,1.93,-77.3,1.61,-79.3,1.21,-76.9,.97]
F_L30A = [-67.3,1.47,-65.7,1.52,-65.7,1.55,-67.3,1.53,-67.9,1.49]
F_L30B = [-42.8,2.31,-38.5,2.19,-31.2,2.13,-25,2.17,-24,2.25,-28.7,2.37,-38.5,2.41,-42.8,2.37]
PANEL_F = [("F",-10,F_N10),("F",0,F_F0A),("F",0,F_F0B),("F",-20,F_N20),("F",-30,F_N30),("F",-40,F_N40),("F",-40,F_N40B),("F",-50,F_N50),
           ("F",10,F_F10T),("F",20,F_F20T),("F",30,F_F30T),("F",10,F_F10R),("F",10,F_F10),("F",20,F_F20),("F",30,F_F30),
           ("O",0,F_L0),("O",0,F_L0B),("O",0,F_L0C),("O",0,F_L0D),("O",0,F_L0E),("O",0,F_L0F),
           ("O",-10,F_M10A),("O",-10,F_M10B),("O",-20,F_M20A),("O",-20,F_M20B),("O",-30,F_M30A),("O",-30,F_M30B),("O",-40,F_M40A),("C",-40,F_M40B),
           ("O",10,F_L10T),("O",20,F_L20T),("O",10,F_L10R),("C",10,F_L10),("C",20,F_L20),("C",30,F_L30A),("C",30,F_L30B)]

TITLES = ["a) Sep\u00a0\u00a0U ERAI","b) Oct\u00a0\u00a0U ERAI","c) Nov\u00a0\u00a0U ERAI",
          "d) Sep\u00a0\u00a0U LMDz","e) Oct\u00a0\u00a0U LMDz","f) Nov\u00a0\u00a0U LMDz"]

NUM_FONT = "Liberation Sans"
TXT_FONT = "DejaVu Sans"
PW, PH = 246, 415.5

color_scale = alt.Scale(type="threshold", domain=EDGES[1:-1], range=COLORS)
x_scale = alt.Scale(domain=[-90, 0], nice=False, zero=False)
y_scale = alt.Scale(type="log", domain=[0.01, 1000], reverse=True, nice=False)

FRAC = "(log(datum.value)/LN10-floor(log(datum.value)/LN10+0.001))"
Y_SIZE = {"condition": [{"test": f"{FRAC}<0.01", "value": 5},
                        {"test": f"abs({FRAC}-0.477)<0.01", "value": 3.5}], "value": 2}
Y_LABEL = f"{FRAC}<0.01 ? format(datum.value,'~g') : ''"
X_LABEL = "replace(format(datum.value,'d'),'-','\u2212')"
COMMON = dict(domainColor="black", domainWidth=1.5, tickColor="black", tickWidth=1.3, grid=False,
              labelFont=NUM_FONT, labelFontSize=26, labelColor="black", labelOverlap=False, labelFlush=False,
              titleFont=TXT_FONT, titleFontSize=24.5, titleFontWeight="normal", titleColor="black")


def table(shapes, kinds):
    rows = []
    for n, (kind, level, pts) in enumerate(shapes):
        if kind not in kinds:
            continue
        for i in range(0, len(pts), 2):
            rows.append({"s": n, "i": i, "lat": pts[i], "p": 10 ** pts[i + 1], "level": level,
                         "weight": "thick" if level % 50 == 0 else "thin"})
    return pd.DataFrame(rows, columns=["s", "i", "lat", "p", "level", "weight"])


def panel(shapes, title, title_dx, title_offset, top_row, y_title=None, x_title=None, last=False):
    if top_row:
        base = [{"x": -90.4, "x2": 0.4, "y": 0.1, "y2": 500}]
        mask = [{"x": -89.7, "x2": -0.3, "y": 0.0103, "y2": 0.0998},
                {"x": -89.7, "x2": -0.3, "y": 502, "y2": 970}]
    else:
        base = [{"x": -90, "x2": 0.4, "y": 0.0107, "y2": 1015}]
        mask = [{"x": -89.7, "x2": -0.3, "y": 0.0103, "y2": 0.0107}]

    left = dict(values=Y_TICKS, tickSize=Y_SIZE, orient="left", **COMMON)
    if y_title:
        left.update(title="pressure (hPa)", titleX=-95, titleY=y_title, titleAngle=-90, titleBaseline="middle",
                    titleAlign="center", labelExpr=Y_LABEL, labelPadding=11)
    else:
        left.update(title=None, labels=False)
    bottom = dict(values=X_TICKS, tickSize=4.5, orient="bottom", labelExpr=X_LABEL, labelPadding=8.5, **COMMON)
    if last:
        bottom["labelOffset"] = {"condition": {"test": "datum.value==0", "value": -5}, "value": 0}
    if x_title:
        bottom.update(title="latitude", titleX=x_title, titleY=65, titleBaseline="middle", titleAlign="center")
    else:
        bottom.update(title=None)

    back = alt.Chart(alt.Data(values=base)).mark_rect(fill="white").encode(
        x=alt.X("x:Q", scale=x_scale, axis=alt.Axis(**bottom)), x2="x2:Q",
        y=alt.Y("y:Q", scale=y_scale, axis=alt.Axis(**left)), y2="y2:Q")
    mirror = alt.Chart(alt.Data(values=base)).mark_rect(opacity=0).encode(
        x=alt.X("x:Q", scale=x_scale, axis=alt.Axis(values=X_TICKS, tickSize=3, orient="top", labels=False, title=None,
                                                    domainColor="black", domainWidth=1.5, tickColor="black", tickWidth=1.3, grid=False)),
        x2="x2:Q",
        y=alt.Y("y:Q", scale=y_scale, axis=alt.Axis(values=Y_TICKS, tickSize=Y_SIZE, orient="right", labels=False, title=None,
                                                    domainColor="black", domainWidth=1.5, tickColor="black", tickWidth=1.3, grid=False)),
        y2="y2:Q")

    def xy():
        return dict(x=alt.X("lat:Q", scale=x_scale, axis=None), y=alt.Y("p:Q", scale=y_scale, axis=None),
                    detail="s:N", order="i:Q")

    fills = alt.Chart(table(shapes, "F")).mark_line(interpolate="cardinal-closed", clip=True, strokeWidth=0).encode(
        fill=alt.Fill("level:Q", scale=color_scale, legend=None), **xy())
    width_scale = alt.Scale(domain=["thin", "thick"], range=[1.15, 2.3])
    closed = alt.Chart(table(shapes, "C")).mark_line(interpolate="cardinal-closed", clip=True, color="black").encode(
        strokeWidth=alt.StrokeWidth("weight:N", scale=width_scale, legend=None), **xy())
    opened = alt.Chart(table(shapes, "O")).mark_line(interpolate="cardinal", clip=True, color="black").encode(
        strokeWidth=alt.StrokeWidth("weight:N", scale=width_scale, legend=None), **xy())
    cover = alt.Chart(alt.Data(values=mask)).mark_rect(fill="white").encode(
        x=alt.X("x:Q", scale=x_scale, axis=None), x2="x2:Q",
        y=alt.Y("y:Q", scale=y_scale, axis=None), y2="y2:Q")

    return alt.layer(back, mirror, fills, closed, opened, cover).resolve_axis(x="independent", y="independent").properties(
        width=PW, height=PH,
        title=alt.TitleParams(title, font=NUM_FONT, fontSize=29.3, fontWeight="normal", color="black",
                              anchor="middle", dx=title_dx, offset=title_offset))


bar_rows = [{"lo": EDGES[i], "hi": EDGES[i + 1], "mid": (EDGES[i] + EDGES[i + 1]) / 2} for i in range(len(COLORS))]
bar = alt.Chart(alt.Data(values=bar_rows)).mark_rect(stroke="black", strokeWidth=1.3).encode(
    x=alt.X("lo:Q", scale=alt.Scale(domain=[-95, 95], range=[-44, 867], nice=False, zero=False),
            axis=alt.Axis(values=EDGES, domain=False, ticks=False, title=None, labelFont=NUM_FONT, labelFontSize=26,
                          labelColor="black", labelOverlap=False, labelFlush=False, labelExpr=X_LABEL,
                          labelPadding=0, offset=-8.5, grid=False)),
    x2="hi:Q",
    y=alt.value(-34), y2=alt.value(-19),
    fill=alt.Fill("mid:Q", scale=color_scale, legend=None),
).properties(width=PW, height=1)

chart = alt.concat(
    panel(PANEL_A, TITLES[0], -4, 0, True, y_title=192),
    panel(PANEL_B, TITLES[1], -4, 7.6, True),
    panel(PANEL_C, TITLES[2], -4, 7.6, True, last=True),
    panel(PANEL_D, TITLES[3], 0, 3.5, False, y_title=224, x_title=113),
    panel(PANEL_E, TITLES[4], -1, 11.6, False, x_title=127.5),
    panel(PANEL_F, TITLES[5], 0, 11.6, False, x_title=132, last=True),
    bar, columns=3, spacing={"row": 144.5, "column": 77.5}, bounds="flush",
).properties(padding={"left": 5, "top": -1, "right": -17, "bottom": 5}).configure_view(stroke=None).configure(background="white")

chart.save("out.html", embed_options={"renderer": "svg", "actions": False})
